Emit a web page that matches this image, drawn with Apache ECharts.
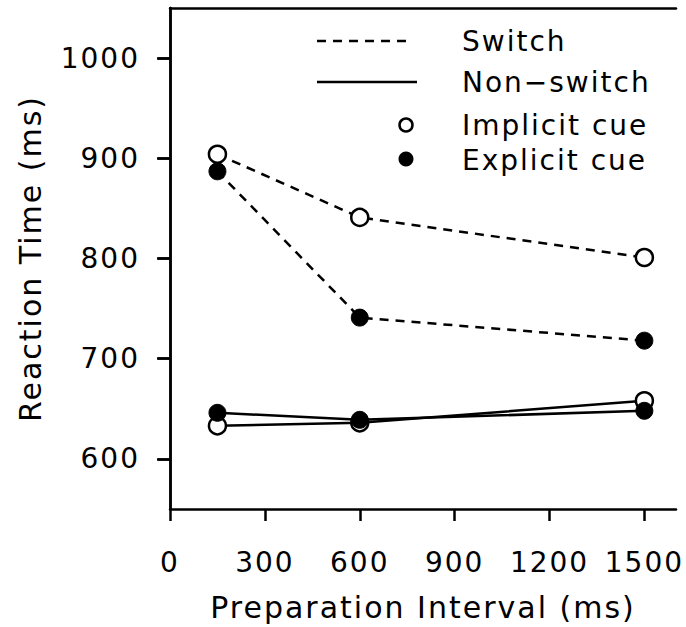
<!DOCTYPE html>
<html>
<head>
<meta charset="utf-8">
<script src="https://cdn.jsdelivr.net/npm/echarts@6/dist/echarts.min.js"></script>
<style>
html,body{margin:0;padding:0;background:#fff;}
#c{width:686px;height:627px;}
#c svg text{letter-spacing:2px;}
</style>
</head>
<body>
<div id="c"></div>
<script>
// ---- data ----
const intervals = [150, 600, 1500];
const switchImplicit = [904, 841, 801];
const switchExplicit = [887, 741, 718];
const nonSwitchImplicit = [633, 636, 658];
const nonSwitchExplicit = [646, 639, 648];
const xTicks = [0, 300, 600, 900, 1200, 1500];
const yTicks = [600, 700, 800, 900, 1000];
const legendLabels = ['Switch', 'Non\u2212switch', 'Implicit cue', 'Explicit cue'];

const FONT = 'DejaVu Sans';
const FS = 30;
const TICK_FS = 28;
const LEG_FS = 28;
const pairs = (ys) => intervals.map((x, i) => [x, ys[i]]);

const openStyle = { color: '#fff', borderColor: '#000', borderWidth: 2.5 };
const filledStyle = { color: '#000', borderColor: '#000', borderWidth: 1 };

function mkSeries(name, ys, dashed, open) {
  return {
    name: name,
    type: 'line',
    data: pairs(ys),
    symbol: 'circle',
    symbolSize: 17,
    showSymbol: true,
    lineStyle: { color: '#000', width: 2.5, type: dashed ? [9, 7] : 'solid' },
    itemStyle: open ? openStyle : filledStyle,
    emphasis: { disabled: true },
    animation: false
  };
}

const chart = echarts.init(document.getElementById('c'), null, { renderer: 'svg' });
const axisLineStyle = { show: true, lineStyle: { color: '#000', width: 2.5 } };
const labelStyle = { color: '#000', fontFamily: FONT, fontSize: TICK_FS, formatter: (v) => String(v) };
const legFont = LEG_FS + 'px "DejaVu Sans"';

chart.setOption({
  backgroundColor: '#fff',
  animation: false,
  grid: { left: 170, right: 10, top: 8, bottom: 110 },
  xAxis: [
    {
      type: 'value', position: 'bottom', min: 0, max: 1600,
      axisLine: axisLineStyle,
      axisTick: { show: true, inside: false, length: 12, lineStyle: { color: '#000', width: 2.5 }, customValues: xTicks },
      axisLabel: Object.assign({ margin: 39, customValues: xTicks }, labelStyle),
      splitLine: { show: false },
      name: 'Preparation Interval (ms)', nameLocation: 'middle', nameGap: 83,
      nameTextStyle: { color: '#000', fontFamily: FONT, fontSize: FS }
    },
    {
      type: 'value', position: 'top', min: 0, max: 1600,
      axisLine: axisLineStyle, axisTick: { show: false }, axisLabel: { show: false }, splitLine: { show: false }
    }
  ],
  yAxis: [
    {
      type: 'value', position: 'left', min: 550, max: 1050,
      axisLine: axisLineStyle,
      axisTick: { show: true, inside: false, length: 13, lineStyle: { color: '#000', width: 2.5 }, customValues: yTicks },
      axisLabel: Object.assign({ margin: 30, customValues: yTicks }, labelStyle),
      splitLine: { show: false },
      name: 'Reaction Time (ms)', nameLocation: 'middle', nameGap: 125,
      nameTextStyle: { color: '#000', fontFamily: FONT, fontSize: FS }
    },
    {
      type: 'value', position: 'right', min: 550, max: 1050,
      axisLine: axisLineStyle,
      axisTick: { show: true, inside: true, length: 12, lineStyle: { color: '#000', width: 2.5 }, customValues: yTicks },
      axisLabel: { show: false }, splitLine: { show: false }
    }
  ],
  series: [
    mkSeries('Switch, explicit cue', switchExplicit, true, false),
    mkSeries('Switch, implicit cue', switchImplicit, true, true),
    mkSeries('Non-switch, implicit cue', nonSwitchImplicit, false, true),
    mkSeries('Non-switch, explicit cue', nonSwitchExplicit, false, false)
  ],
  graphic: [
    { type: 'line', shape: { x1: 317, y1: 41, x2: 408, y2: 41 }, style: { stroke: '#000', lineWidth: 2.5, lineDash: [9, 7] } },
    { type: 'line', shape: { x1: 317, y1: 82, x2: 417, y2: 82 }, style: { stroke: '#000', lineWidth: 2.5 } },
    { type: 'circle', shape: { cx: 406, cy: 125, r: 6.5 }, style: { fill: '#fff', stroke: '#000', lineWidth: 2.5 } },
    { type: 'circle', shape: { cx: 406, cy: 159, r: 7.5 }, style: { fill: '#000' } },
    { type: 'text', x: 462, y: 41, style: { text: legendLabels[0], fill: '#000', font: legFont, textVerticalAlign: 'middle' } },
    { type: 'text', x: 462, y: 82, style: { text: legendLabels[1], fill: '#000', font: legFont, textVerticalAlign: 'middle' } },
    { type: 'text', x: 462, y: 125, style: { text: legendLabels[2], fill: '#000', font: legFont, textVerticalAlign: 'middle' } },
    { type: 'text', x: 462, y: 160, style: { text: legendLabels[3], fill: '#000', font: legFont, textVerticalAlign: 'middle' } }
  ]
});
</script>
</body>
</html>
